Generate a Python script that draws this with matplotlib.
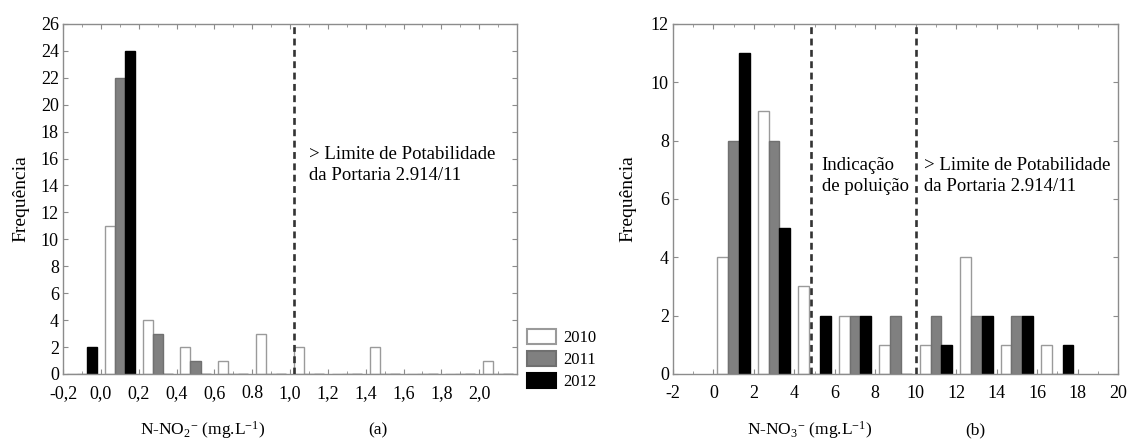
import numpy as np
import matplotlib.pyplot as plt
from matplotlib.patches import Patch
from matplotlib.ticker import MultipleLocator

plt.rcParams['font.family'] = ['Liberation Serif', 'DejaVu Serif']
plt.rcParams['mathtext.fontset'] = 'custom'
plt.rcParams['mathtext.rm'] = 'Liberation Serif'
plt.rcParams['mathtext.it'] = 'Liberation Serif:italic'
plt.rcParams['axes.unicode_minus'] = False

#data
years = ['2010', '2011', '2012']

no2_centres = [-0.1, 0.1, 0.3, 0.5, 0.7, 0.9, 1.1, 1.3, 1.5, 1.7, 1.9, 2.1]
no2_2010 = [0, 11, 4, 2, 1, 3, 2, 0, 2, 0, 0, 1]
no2_2011 = [0, 22, 3, 1, 0, 0, 0, 0, 0, 0, 0, 0]
no2_2012 = [2, 24, 0, 0, 0, 0, 0, 0, 0, 0, 0, 0]
no2_ticks = [-0.2, 0.0, 0.2, 0.4, 0.6, 0.8, 1.0, 1.2, 1.4, 1.6, 1.8, 2.0]
no2_ticklabels = ['-0,2', '0,0', '0,2', '0,4', '0,6', '0.8', '1,0', '1,2', '1,4', '1,6', '1,8', '2,0']

no3_centres = [1, 3, 5, 7, 9, 11, 13, 15, 17]
no3_2010 = [4, 9, 3, 2, 1, 1, 4, 1, 1]
no3_2011 = [8, 8, 0, 2, 2, 2, 2, 2, 0]
no3_2012 = [11, 5, 2, 2, 0, 1, 2, 2, 1]
no3_ticks = [-2, 0, 2, 4, 6, 8, 10, 12, 14, 16, 18, 20]

face_colours = ['white', '#808080', 'black']
edge_colours = ['#9a9a9a', '#707070', 'black']
spine_colour = '#8c8c8c'
dash_style = (0, (2.6, 1.7))


def draw_hist(axes, centres, series, bin_width):
    """
    Draws three bars per bin, one for each year, side by side
    """
    width = bin_width * 0.8 / 3
    centres = np.array(centres)
    for i, counts in enumerate(series):
        axes.bar(centres + (i - 1) * width, counts, width, color = face_colours[i],
                 edgecolor = edge_colours[i], linewidth = 1.0, zorder = 2)


def style_axes(axes):
    for spine in axes.spines.values():
        spine.set_color(spine_colour)
        spine.set_linewidth(1.0)
    axes.tick_params(which = 'both', direction = 'in', top = True, right = True,
                     color = spine_colour, labelsize = 13)
    axes.tick_params(which = 'major', length = 3.5)
    axes.tick_params(which = 'minor', length = 2.5)
    axes.tick_params(axis = 'x', pad = 8)
    axes.tick_params(axis = 'y', pad = 3)


fig = plt.figure(figsize = (11.28, 4.41), dpi = 100)

#left panel, nitrite
ax1 = fig.add_axes([0.0559, 0.152, 0.4025, 0.7937])
draw_hist(ax1, no2_centres, [no2_2010, no2_2011, no2_2012], 0.2)
ax1.axvline(1.02, color = '#333333', linestyle = dash_style, linewidth = 1.9, zorder = 3)
ax1.set_xlim(-0.2, 2.2)
ax1.set_ylim(0, 26)
ax1.set_xticks(no2_ticks)
ax1.set_xticklabels(no2_ticklabels)
ax1.set_yticks(np.arange(0, 27, 2))
ax1.xaxis.set_minor_locator(MultipleLocator(0.1))
style_axes(ax1)
ax1.text(1.10, 15.55, '> Limite de Potabilidade\nda Portaria 2.914/11', ha = 'left', va = 'center',
         fontsize = 13.5, linespacing = 1.3)
ax1.set_ylabel('Frequência', fontsize = 14, labelpad = 8)

#right panel, nitrate
ax2 = fig.add_axes([0.5966, 0.152, 0.3945, 0.7937])
draw_hist(ax2, no3_centres, [no3_2010, no3_2011, no3_2012], 2)
ax2.axvline(4.8, color = '#333333', linestyle = dash_style, linewidth = 1.9, zorder = 3)
ax2.axvline(10.0, color = '#333333', linestyle = dash_style, linewidth = 1.9, zorder = 3)
ax2.set_xlim(-2, 20)
ax2.set_ylim(0, 12)
ax2.set_xticks(no3_ticks)
ax2.set_yticks(np.arange(0, 13, 2))
ax2.xaxis.set_minor_locator(MultipleLocator(1))
style_axes(ax2)
ax2.text(5.35, 6.8, 'Indicação\nde poluição', ha = 'left', va = 'center',
         fontsize = 13.5, linespacing = 1.3)
ax2.text(10.41, 6.8, '> Limite de Potabilidade\nda Portaria 2.914/11', ha = 'left', va = 'center',
         fontsize = 13.5, linespacing = 1.3)
ax2.set_ylabel('Frequência', fontsize = 14, labelpad = 10)

#axis titles placed as in the original layout
label_y = 1 - 430 / 441
fig.text(203 / 1128, label_y, r'N-NO$_2$$^{-}$ (mg.L$^{-1}$)', ha = 'center', va = 'center', fontsize = 12.5)
fig.text(378 / 1128, label_y, '(a)', ha = 'center', va = 'center', fontsize = 12.5)
fig.text(810 / 1128, label_y, r'N-NO$_3$$^{-}$ (mg.L$^{-1}$)', ha = 'center', va = 'center', fontsize = 12.5)
fig.text(975 / 1128, label_y, '(b)', ha = 'center', va = 'center', fontsize = 12.5)

#shared legend between the panels
handles = [Patch(facecolor = face_colours[i], edgecolor = edge_colours[i], linewidth = 1.5) for i in range(3)]
fig.legend(handles, years, loc = 'upper left', bbox_to_anchor = (527 / 1128, 1 - 329 / 441),
           frameon = False, fontsize = 12, handlelength = 1.75, handleheight = 1.0,
           handletextpad = 0.4, labelspacing = 0.28, borderpad = 0, borderaxespad = 0)

plt.savefig('out.png', dpi = 100)
